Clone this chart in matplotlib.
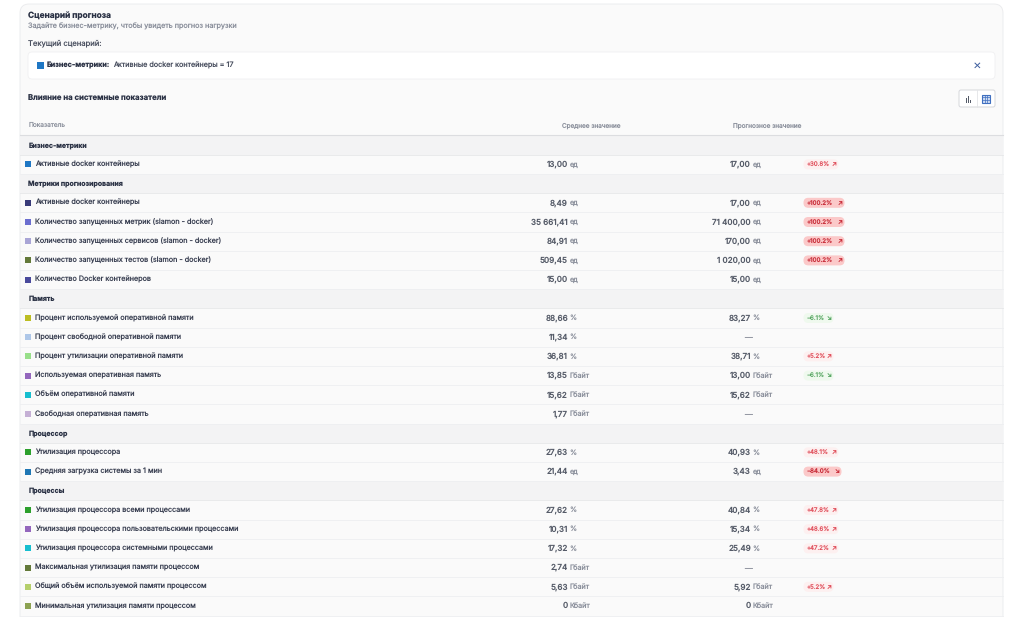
import matplotlib
matplotlib.use("Agg")
import matplotlib.pyplot as plt
from matplotlib.patches import FancyBboxPatch, Rectangle

plt.rcParams["font.family"] = ["Inter", "DejaVu Sans"]
plt.rcParams["text.hinting"] = "no_hinting"

# None in row_colors marks a group header row
row_labels = [
    "Бизнес-метрики",
    "Активные docker контейнеры",
    "Метрики прогнозирования",
    "Активные docker контейнеры",
    "Количество запущенных метрик (slamon - docker)",
    "Количество запущенных сервисов (slamon - docker)",
    "Количество запущенных тестов (slamon - docker)",
    "Количество Docker контейнеров",
    "Память",
    "Процент используемой оперативной памяти",
    "Процент свободной оперативной памяти",
    "Процент утилизации оперативной памяти",
    "Используемая оперативная память",
    "Объём оперативной памяти",
    "Свободная оперативная память",
    "Процессор",
    "Утилизация процессора",
    "Средняя загрузка системы за 1 мин",
    "Процессы",
    "Утилизация процессора всеми процессами",
    "Утилизация процессора пользовательскими процессами",
    "Утилизация процессора системными процессами",
    "Максимальная утилизация памяти процессом",
    "Общий объём используемой памяти процессом",
    "Минимальная утилизация памяти процессом",
]
row_colors = [
    None, "#1f77c4",
    None, "#393b79", "#6b6ecf", "#a9a5d6", "#637939", "#4a4a9c",
    None, "#bcbd22", "#aec7e8", "#98df8a", "#9467bd", "#17becf", "#c5b0d5",
    None, "#2ca02c", "#1f77b4",
    None, "#2ca02c", "#9467bd", "#17becf", "#637939", "#b5cf6b", "#8ca252",
]
mean_values = [
    "", "13,00",
    "", "8,49", "35 661,41", "84,91", "509,45", "15,00",
    "", "88,66", "11,34", "36,81", "13,85", "15,62", "1,77",
    "", "27,63", "21,44",
    "", "27,62", "10,31", "17,32", "2,74", "5,63", "0",
]
mean_units = [
    "", "ед",
    "", "ед", "ед", "ед", "ед", "ед",
    "", "%", "%", "%", "Гбайт", "Гбайт", "Гбайт",
    "", "%", "ед",
    "", "%", "%", "%", "Гбайт", "Гбайт", "Кбайт",
]
forecast_values = [
    "", "17,00",
    "", "17,00", "71 400,00", "170,00", "1 020,00", "15,00",
    "", "83,27", "—", "38,71", "13,00", "15,62", "—",
    "", "40,93", "3,43",
    "", "40,84", "15,34", "25,49", "—", "5,92", "0",
]
forecast_units = [
    "", "ед",
    "", "ед", "ед", "ед", "ед", "ед",
    "", "%", "", "%", "Гбайт", "Гбайт", "",
    "", "%", "ед",
    "", "%", "%", "%", "", "Гбайт", "Кбайт",
]
deltas = [
    "", "+30.8%",
    "", "+100.2%", "+100.2%", "+100.2%", "+100.2%", "",
    "", "−6.1%", "", "+5.2%", "−6.1%", "", "",
    "", "+48.1%", "−84.0%",
    "", "+47.8%", "+48.6%", "+47.2%", "", "+5.2%", "",
]
strong_deltas = ["+100.2%", "−84.0%"]
good_deltas = ["−6.1%"]

TEXT = "#2b3245"
MUTED = "#8b909c"
ROW_START = 145.2
ROW_STEP = 19.2

fig = plt.figure(figsize=(10.24, 6.22), dpi=100)
ax = fig.add_axes([0, 0, 1, 1])
ax.set_xlim(0, 1024)
ax.set_ylim(622, 0)
ax.axis("off")


def rounded(x, y, w, h, r, fc, ec="none", lw=0.8, z=1):
    ax.add_patch(FancyBboxPatch((x + r, y + r), w - 2 * r, h - 2 * r,
                                boxstyle=f"round,pad={r},rounding_size={r}",
                                fc=fc, ec=ec, lw=lw, zorder=z))


# panel and top blocks
rounded(20, 4, 983, 640, 9, "#fafafa", "#e9eaec", 0.6)
ax.text(28.5, 15.5, "Сценарий прогноза", fontsize=6.0, fontweight="bold", color=TEXT, va="center")
ax.text(28.5, 26.5, "Задайте бизнес-метрику, чтобы увидеть прогноз нагрузки", fontsize=5.2, color=MUTED, va="center")
ax.text(28.5, 43.5, "Текущий сценарий:", fontsize=5.5, color="#4a5060", va="center")

rounded(28, 52, 967, 27, 4, "white", "#f0f0f2", 0.6)
ax.add_patch(Rectangle((37, 62), 7, 7, fc="#1f77c4", zorder=3))
ax.text(47, 65, "Бизнес-метрики:", fontsize=5.2, fontweight="bold", color=TEXT, va="center", zorder=3)
ax.text(113, 65, "Активные docker контейнеры = 17", fontsize=5.2, color="#4a5060", va="center", zorder=3)
ax.text(977.5, 66, "✕", fontsize=7.5, fontweight="bold", color="#3f5f9f", ha="center", va="center", zorder=3)

ax.text(28.5, 99, "Влияние на системные показатели", fontsize=5.6, fontweight="bold", color=TEXT, va="center")

# view switch buttons
rounded(959, 90, 36, 17, 2, "white", "#d5d7db", 0.7, z=2)
ax.plot([977, 977], [90, 107], color="#e3e4e7", lw=0.6, zorder=3)
for bx, by, bh in zip([965.5, 967.7, 969.9], [98, 96, 100], [4.5, 6.5, 2.5]):
    ax.add_patch(Rectangle((bx, by), 1.4, bh, fc="#555b68", zorder=3))
ax.add_patch(Rectangle((982, 94.5), 8, 8, fc="#cfdcf3", ec="#3f6fc0", lw=0.8, zorder=3))
for g in (984.7, 987.3):
    ax.plot([g, g], [94.5, 102.5], color="#3f6fc0", lw=0.5, zorder=4)
for g in (97.2, 99.8):
    ax.plot([982, 990], [g, g], color="#3f6fc0", lw=0.5, zorder=4)

# column header
ax.text(28.5, 125.5, "Показатель", fontsize=4.7, color=MUTED, va="center")
ax.text(591.5, 125.5, "Среднее значение", fontsize=4.6, color=MUTED, ha="center", va="center")
ax.text(767, 125.5, "Прогнозное значение", fontsize=4.6, color=MUTED, ha="center", va="center")
ax.plot([20, 1003], [135, 135], color="#dcdde0", lw=0.8, zorder=3)

# table rows
for i, label in enumerate(row_labels):
    y = ROW_START + i * ROW_STEP
    color = row_colors[i]
    if color is None:
        ax.add_patch(Rectangle((20.4, y - ROW_STEP / 2), 982.2, ROW_STEP, fc="#f3f3f4", zorder=1.5))
        ax.text(28.5, y, label, fontsize=5.0, fontweight="bold", color=TEXT, va="center", zorder=3)
        ax.plot([20, 1003], [y + ROW_STEP / 2] * 2, color="#e6e7e9", lw=0.6, zorder=2)
        continue

    ax.plot([20, 1003], [y + ROW_STEP / 2] * 2, color="#eeeff1", lw=0.6, zorder=2)
    ax.add_patch(Rectangle((25.3, y - 3), 6, 6, fc=color, zorder=3))
    ax.text(35, y, label, fontsize=5.2, color="#3c4254", va="center", zorder=3)

    ax.text(568, y, mean_values[i], fontsize=5.8, fontweight="medium", color="#555b68", ha="right", va="center", zorder=3)
    ax.text(569.5, y, mean_units[i], fontsize=5.2, color=MUTED, va="center", zorder=3)

    if forecast_values[i] == "—":
        ax.text(748, y, "—", fontsize=5.6, color=MUTED, ha="center", va="center", zorder=3)
    else:
        ax.text(751, y, forecast_values[i], fontsize=5.8, fontweight="medium", color="#555b68", ha="right", va="center", zorder=3)
        ax.text(752.5, y, forecast_units[i], fontsize=5.2, color=MUTED, va="center", zorder=3)

    delta = deltas[i]
    if delta:
        arrow = "↘" if delta.startswith("−") else "↗"
        if delta in strong_deltas:
            fc, tc = "#fbc9c9", "#c9303c"
        elif delta in good_deltas:
            fc, tc = "#eff9ee", "#5aa865"
        else:
            fc, tc = "#fdf0f0", "#e0505c"
        width = {7: 41, 6: 35, 5: 30}[len(delta)]
        if delta == "−84.0%":
            width = 38
        rounded(803.5, y - 5, width, 10, 4.8, fc, z=2.5)
        ax.text(807, y, delta, fontsize=4.4, fontweight="medium" if delta in strong_deltas else "normal",
                color=tc, va="center", zorder=3)
        ax.text(803.5 + width - 2, y, arrow, fontsize=4.6, color=tc, ha="right", va="center", zorder=3)

# panel is cut off by the bottom edge of the screenshot
ax.add_patch(Rectangle((0, 616.5), 1024, 6, fc="white", zorder=5))

fig.savefig("out.png", dpi=100, facecolor="white")
plt.close(fig)
